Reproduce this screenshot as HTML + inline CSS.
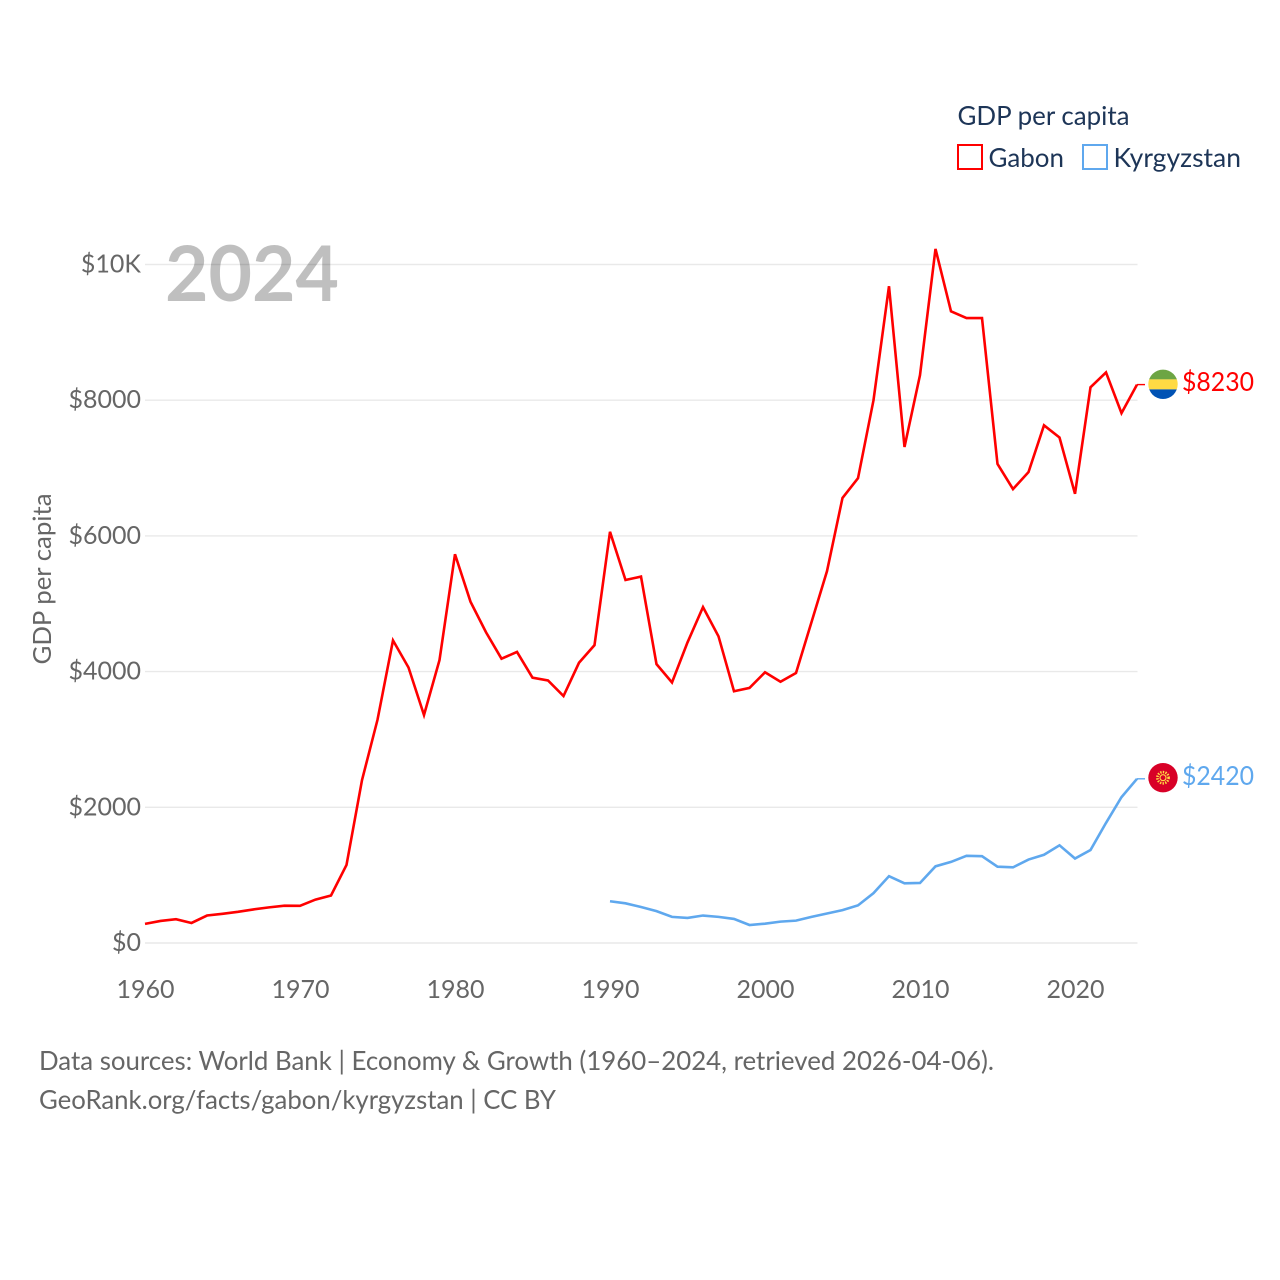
<!DOCTYPE html>
<html lang="en">
<head>
<meta charset="utf-8">
<title>GDP per capita: Gabon and Kyrgyzstan</title>
<style>
html,body{margin:0;padding:0;background:#fff;}
svg{display:block;}
text{font-family:"Lato","Carlito","Liberation Sans",sans-serif;}
</style>
</head>
<body>
<svg id="chart" xmlns="http://www.w3.org/2000/svg" width="1280" height="1280" viewBox="0 0 1280 1280">
  <rect width="1280" height="1280" fill="#fff"/>
  <g id="grid"></g>
  <g id="yticks"></g>
  <g id="xticks"></g>
  <text transform="translate(51 579) rotate(-90)" text-anchor="middle" font-size="25" fill="#666" textLength="171" lengthAdjust="spacingAndGlyphs">GDP per capita</text>
  <text x="165" y="301" font-size="77" font-weight="700" fill="#000" fill-opacity="0.25" textLength="174" lengthAdjust="spacingAndGlyphs">2024</text>
  <g id="series"></g>

  <g>
    <text x="957.5" y="125" font-size="26" fill="#1d3557" textLength="172" lengthAdjust="spacingAndGlyphs">GDP per capita</text>
    <g>
      <rect x="958" y="145" width="24" height="24" fill="none" stroke="#ff0000" stroke-width="2"/>
      <text x="988.5" y="167" font-size="26" fill="#1d3557" textLength="75.5" lengthAdjust="spacingAndGlyphs">Gabon</text>
    </g>
    <g>
      <rect x="1083" y="145" width="24" height="24" fill="none" stroke="#5fa8ee" stroke-width="2"/>
      <text x="1113.5" y="167" font-size="26" fill="#1d3557" textLength="127.5" lengthAdjust="spacingAndGlyphs">Kyrgyzstan</text>
    </g>
  </g>

  <clipPath id="gabon-clip"><circle cx="1163" cy="384.3" r="14.7"/></clipPath>
  <g clip-path="url(#gabon-clip)">
    <rect x="1148" y="369" width="30" height="10.4" fill="#6da544"/>
    <rect x="1148" y="379.4" width="30" height="10" fill="#ffda44"/>
    <rect x="1148" y="389.4" width="30" height="10" fill="#0052b4"/>
  </g>
  <text x="1182" y="391" font-size="26" fill="#ff0000" textLength="72" lengthAdjust="spacingAndGlyphs">$8230</text>

  <g>
    <circle cx="1163" cy="777.7" r="14.7" fill="#d80027"/>
    <circle cx="1163" cy="777.7" r="5.6" fill="none" stroke="#ffda44" stroke-width="2.6" stroke-dasharray="1.4 1.2"/>
    <circle cx="1163" cy="777.7" r="3" fill="none" stroke="#ffda44" stroke-width="1.1"/>
  </g>
  <text x="1182" y="785" font-size="26" fill="#5fa8ee" textLength="72" lengthAdjust="spacingAndGlyphs">$2420</text>

  <g>
    <text x="39" y="1070" font-size="26" fill="#666" textLength="955" lengthAdjust="spacingAndGlyphs">Data sources: World Bank | Economy &amp; Growth (1960–2024, retrieved 2026-04-06).</text>
    <text x="39" y="1109" font-size="26" fill="#666" textLength="517" lengthAdjust="spacingAndGlyphs">GeoRank.org/facts/gabon/kyrgyzstan | CC BY</text>
  </g>
</svg>
<script>
const firstYear = 1960;
const yTickValues = [0, 2000, 4000, 6000, 8000, 10000];
const yTickLabels = ["$0", "$2000", "$4000", "$6000", "$8000", "$10K"];
const xTickValues = [1960, 1970, 1980, 1990, 2000, 2010, 2020];
const xTickLabels = ["1960", "1970", "1980", "1990", "2000", "2010", "2020"];
const gabonValues = [282,325,350,295,405,430,460,495,525,550,548,640,700,1150,2400,3290,4460,4060,3360,4170,5730,5030,4580,4190,4290,3910,3870,3640,4130,4390,6060,5350,5400,4110,3840,4430,4950,4520,3710,3760,3990,3850,3980,4730,5480,6560,6850,8000,9680,7310,8370,10230,9310,9210,9210,7060,6690,6940,7630,7450,6620,8190,8410,7810,8230];
const kyrgyzstanFirstYear = 1990;
const kyrgyzstanValues = [615,585,530,470,385,370,405,385,355,265,285,315,330,385,435,485,555,735,985,880,885,1130,1195,1285,1280,1125,1115,1230,1300,1440,1245,1370,1770,2150,2420];

const NS = 'http://www.w3.org/2000/svg';
function xScale(year) { return 145 + (year - 1960) * 15.5; }
function yScale(value) { return 943 - value * 0.06785; }
function make(tag, attrs, parent) {
  const el = document.createElementNS(NS, tag);
  Object.keys(attrs).forEach(function (k) { el.setAttribute(k, attrs[k]); });
  parent.appendChild(el);
  return el;
}
const grid = document.getElementById('grid');
const yticks = document.getElementById('yticks');
const xticks = document.getElementById('xticks');
const series = document.getElementById('series');

yTickValues.forEach(function (v, i) {
  const line = make('line', {x1: 145, x2: 1137.5, y1: yScale(v), y2: yScale(v), stroke: '#e9e9e9', 'stroke-width': 1.4}, grid);
  
  
  const t = make('text', {x: 141, y: yScale(v) + 8, 'text-anchor': 'end', 'font-size': 25, fill: '#666'}, yticks);
  t.textContent = yTickLabels[i];
  
  
});
xTickValues.forEach(function (v, i) {
  const t = make('text', {x: xScale(v) + 0.5, y: 998, 'text-anchor': 'middle', 'font-size': 25, fill: '#666'}, xticks);
  t.textContent = xTickLabels[i];
  
  
});
function drawSeries(values, startYear, color, name) {
  const pts = values.map(function (v, i) { return xScale(startYear + i).toFixed(2) + ',' + yScale(v).toFixed(2); });
  const line = make('polyline', {points: pts.join(' '), fill: 'none', stroke: color, 'stroke-width': 2.6, 'stroke-linejoin': 'miter'}, series);
  
  
  const lastX = xScale(startYear + values.length - 1);
  const lastY = yScale(values[values.length - 1]);
  const conn = make('line', {x1: lastX, x2: lastX + 8, y1: lastY, y2: lastY, stroke: color, 'stroke-width': 1.4}, series);
  
  
}
drawSeries(gabonValues, firstYear, '#ff0000', 'gabon');
drawSeries(kyrgyzstanValues, kyrgyzstanFirstYear, '#5fa8ee', 'kyrgyzstan');
</script>
</body>
</html>
